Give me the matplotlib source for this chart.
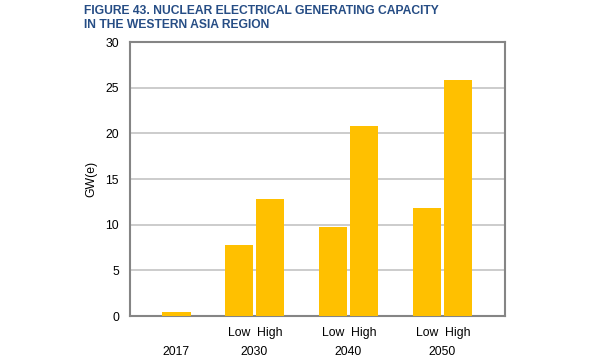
import matplotlib.pyplot as plt

plt.rcParams['font.family'] = ['Liberation Sans', 'DejaVu Sans']

# data
years = ["2017", "2030", "2040", "2050"]
base_2017 = 0.4
low = [7.8, 9.8, 11.8]
high = [12.8, 20.8, 25.85]
case_labels = ["Low", "High"]
yticks = [0, 5, 10, 15, 20, 25, 30]

bar_color = "#FFC000"
grid_color = "#c4c4c4"
spine_color = "#858585"
title_color = "#264d85"

fig = plt.figure(figsize=(6, 3.6), dpi=100)
ax = fig.add_axes([0.2167, 0.1222, 0.625, 0.761])

groups = [1, 2, 3]
w = 0.30
off = 0.165
ax.bar([0.17], [base_2017], width=w, color=bar_color, zorder=3)
ax.bar([g - off for g in groups], low, width=w, color=bar_color, zorder=3)
ax.bar([g + off for g in groups], high, width=w, color=bar_color, zorder=3)

ax.set_xlim(-0.324, 3.665)
ax.set_ylim(0, 30)
ax.set_yticks(yticks)
ax.set_xticks([])
ax.tick_params(axis='y', length=0, pad=8, labelsize=8.8)
ax.yaxis.grid(True, color=grid_color, lw=1.2, zorder=0)
for s in ax.spines.values():
    s.set_color(spine_color)
    s.set_linewidth(1.5)
ax.set_ylabel("GW(e)", fontsize=8.8, labelpad=6)

# category labels under the axis
tr = ax.get_xaxis_transform()
for g in groups:
    ax.text(g - off, -0.04, case_labels[0], transform=tr, ha='center', va='top', fontsize=8.8)
    ax.text(g + off, -0.04, case_labels[1], transform=tr, ha='center', va='top', fontsize=8.8)
for x, y in zip([0.17] + groups, years):
    ax.text(x, -0.11, y, transform=tr, ha='center', va='top', fontsize=8.8)

fig.text(84 / 600, 1 - 5 / 360, "FIGURE 43. NUCLEAR ELECTRICAL GENERATING CAPACITY\nIN THE WESTERN ASIA REGION",
         ha='left', va='top', fontsize=8.7, fontweight='bold', color=title_color, linespacing=1.2)

fig.savefig("out.png", dpi=100)
